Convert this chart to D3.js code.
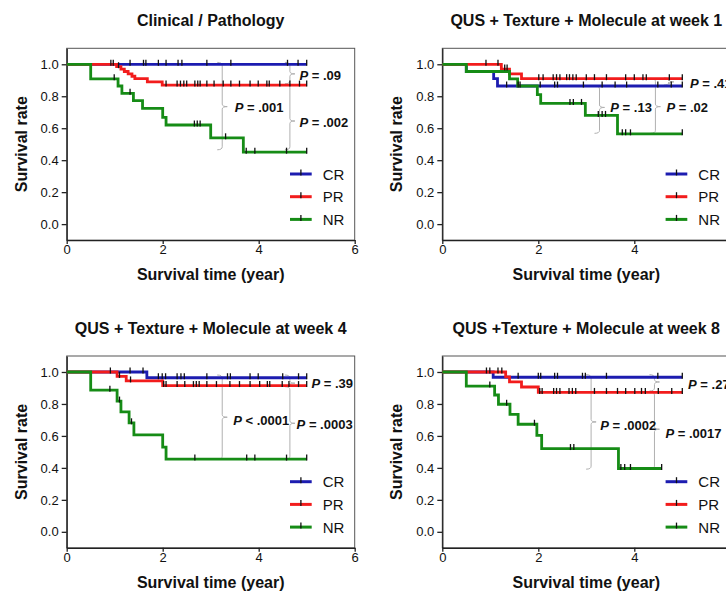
<!DOCTYPE html>
<html><head><meta charset="utf-8">
<script src="https://cdn.jsdelivr.net/npm/d3@7"></script>
<style>body{margin:0;background:#fff}svg{display:block}</style>
</head><body>
<svg id="chart" width="726" height="592"></svg>
<script>
// ---------- DATA ----------
const panelTitles = ["Clinical / Pathology", "QUS + Texture + Molecule at week 1", "QUS + Texture + Molecule at week 4", "QUS +Texture + Molecule at week 8"];
const groups = ["CR", "PR", "NR"];
const xTicks = [0, 2, 4, 6];
const yTicks = [0, 0.2, 0.4, 0.6, 0.8, 1.0];
const xLabel = "Survival time (year)";
const yLabel = "Survival rate";

// Kaplan-Meier steps: [time (year), survival after drop]; last entry = end of follow-up
const clinCR = [[0, 1], [5, 1]];
const clinPR = [[0, 1], [1.04, 0.985], [1.13, 0.97], [1.2, 0.955], [1.28, 0.94], [1.36, 0.925], [1.42, 0.91], [1.68, 0.89], [1.99, 0.87], [5, 0.87]];
const clinNR = [[0, 1], [0.5, 0.909], [1.07, 0.864], [1.15, 0.818], [1.39, 0.773], [1.58, 0.724], [2.0, 0.668], [2.07, 0.62], [3.0, 0.54], [3.68, 0.45], [5, 0.45]];
const clinCRcens = [0.92, 0.97, 1.32, 1.6, 1.65, 1.91, 2.07, 2.32, 2.4, 2.92, 3.42, 4.6, 4.82, 5.0];
const clinPRcens = [1.08, 2.07, 2.3, 2.37, 2.44, 2.5, 2.67, 2.73, 2.78, 2.92, 3.07, 3.26, 3.42, 3.6, 3.82, 3.99, 4.17, 4.22, 4.44, 4.65, 4.85, 5.0];
const clinNRcens = [0.99, 1.32, 2.66, 2.72, 2.78, 3.31, 3.74, 3.92, 4.58, 5.0];

const wk1CR = [[0, 1], [0.5, 0.955], [1.07, 0.91], [1.15, 0.864], [5, 0.864]];
const wk1PR = [[0, 1], [1.23, 0.97], [1.4, 0.94], [1.65, 0.91], [5, 0.91]];
const wk1NR = [[0, 1], [0.5, 0.955], [1.4, 0.909], [1.57, 0.864], [1.98, 0.81], [2.05, 0.755], [2.98, 0.68], [3.65, 0.565], [5, 0.565]];
const wk1CRcens = [1.34, 1.58, 2.04, 2.34, 2.4, 2.94, 3.33, 3.6, 3.84, 4.49, 4.77, 5.0];
const wk1PRcens = [0.91, 1.16, 1.3, 1.35, 2.01, 2.1, 2.31, 2.38, 2.45, 2.59, 2.65, 2.72, 2.79, 3.0, 3.17, 3.42, 3.82, 4.0, 4.18, 4.25, 4.73, 5.0];
const wk1NRcens = [1.62, 2.66, 2.73, 2.9, 3.25, 3.33, 3.4, 3.75, 3.82, 3.92, 5.0];

const wk4CR = [[0, 1], [1.67, 0.964], [5, 0.964]];
const wk4PR = [[0, 1], [1.05, 0.972], [1.24, 0.944], [2.0, 0.915], [5, 0.915]];
const wk4NR = [[0, 1], [0.5, 0.886], [1.05, 0.818], [1.13, 0.75], [1.3, 0.682], [1.4, 0.607], [2.0, 0.53], [2.07, 0.455], [5, 0.455]];
const wk4CRcens = [1.32, 1.59, 1.91, 1.99, 2.06, 2.3, 2.38, 2.45, 2.92, 3.35, 3.41, 3.82, 3.99, 4.5, 4.83, 5.0];
const wk4PRcens = [0.91, 1.1, 1.33, 2.02, 2.07, 2.3, 2.46, 2.64, 2.7, 2.76, 2.92, 3.12, 3.4, 3.6, 3.82, 4.02, 4.18, 4.23, 4.49, 4.63, 4.83, 5.0];
const wk4NRcens = [0.9, 1.1, 1.35, 2.67, 3.75, 3.92, 4.58, 5.0];

const wk8CR = [[0, 1], [1.06, 0.967], [5, 0.967]];
const wk8PR = [[0, 1], [1.32, 0.969], [1.4, 0.938], [1.65, 0.906], [2.0, 0.872], [5, 0.872]];
const wk8NR = [[0, 1], [0.5, 0.912], [1.09, 0.856], [1.17, 0.798], [1.41, 0.735], [1.58, 0.673], [1.97, 0.604], [2.07, 0.521], [3.67, 0.396], [4.57, 0.396]];
const wk8CRcens = [1.58, 2.0, 2.05, 2.34, 2.4, 2.92, 2.98, 3.42, 4.49, 5.0];
const wk8PRcens = [0.92, 0.99, 1.16, 1.24, 2.03, 2.08, 2.32, 2.38, 2.45, 2.64, 2.71, 2.78, 3.17, 3.42, 3.65, 3.82, 4.01, 4.15, 4.23, 4.5, 4.78, 5.0];
const wk8NRcens = [0.99, 1.34, 1.92, 2.67, 2.74, 3.72, 3.8, 3.92, 4.57];

// P-value annotations (labels) and braces, in data units
const clinP = [{op: "=", v: ".09", t: 4.85, s: 0.933}, {op: "=", v: ".001", t: 3.5, s: 0.73}, {op: "=", v: ".002", t: 4.85, s: 0.642}];
const wk1P = [{op: "=", v: ".41", t: 5.16, s: 0.883}, {op: "=", v: ".13", t: 3.5, s: 0.731}, {op: "=", v: ".02", t: 4.67, s: 0.731}];
const wk4P = [{op: "=", v: ".39", t: 5.1, s: 0.929}, {op: "<", v: ".0001", t: 3.47, s: 0.70}, {op: "=", v: ".0003", t: 4.79, s: 0.673}];
const wk8P = [{op: "=", v: ".27", t: 5.12, s: 0.923}, {op: "=", v: ".0002", t: 3.29, s: 0.666}, {op: "=", v: ".0017", t: 4.65, s: 0.62}];

const clinBr = [{t: 3.24, top: 1.012, bot: 0.465, mid: 0.735}, {t: 4.65, top: 1.012, bot: 0.878, mid: 0.94}, {t: 4.65, top: 0.872, bot: 0.465, mid: 0.645}];
const wk1Br = [{t: 3.275, top: 0.864, bot: 0.568, mid: 0.73}, {t: 4.44, top: 0.912, bot: 0.568, mid: 0.735}, {t: 4.72, top: 0.915, bot: 0.87, mid: 0.89}];
const wk4Br = [{t: 3.24, top: 0.981, bot: 0.454, mid: 0.717}, {t: 4.65, top: 0.981, bot: 0.912, mid: 0.93}, {t: 4.65, top: 0.908, bot: 0.454, mid: 0.679}];
const wk8Br = [{t: 3.10, top: 0.983, bot: 0.392, mid: 0.6875}, {t: 4.42, top: 0.983, bot: 0.881, mid: 0.9375}, {t: 4.42, top: 0.875, bot: 0.392, mid: 0.642}];

const panels = [
  {title: panelTitles[0], curves: [clinCR, clinPR, clinNR], cens: [clinCRcens, clinPRcens, clinNRcens], p: clinP, br: clinBr},
  {title: panelTitles[1], curves: [wk1CR, wk1PR, wk1NR], cens: [wk1CRcens, wk1PRcens, wk1NRcens], p: wk1P, br: wk1Br},
  {title: panelTitles[2], curves: [wk4CR, wk4PR, wk4NR], cens: [wk4CRcens, wk4PRcens, wk4NRcens], p: wk4P, br: wk4Br},
  {title: panelTitles[3], curves: [wk8CR, wk8PR, wk8NR], cens: [wk8CRcens, wk8PRcens, wk8NRcens], p: wk8P, br: wk8Br}
];

// ---------- LAYOUT / STYLE ----------
const origins = [[66.7, 48.3], [442.3, 48.3], [66.7, 356], [442.3, 356]];
const W = 288, H = 191.8;
const colors = ["#1c1cb0", "#f21c1c", "#168c16"];
const FF = "'Liberation Sans', Arial, Helvetica, sans-serif";
const CANVAS_W = 726;

const svg = d3.select("#chart").attr("font-family", FF);

function survAt(steps, t) {
  let s = steps[0][1];
  for (const [tt, v] of steps) { if (tt <= t + 1e-9) s = v; }
  return s;
}

panels.forEach((p, i) => {
  const [L, T] = origins[i];
  const x = d3.scaleLinear().domain([0, 6]).range([L, L + W]);
  const y = d3.scaleLinear().domain([-0.1, 1.1]).range([T + H, T]);
  const g = svg.append("g");

  // frame
  g.append("rect").attr("x", L).attr("y", T).attr("width", W).attr("height", H)
    .attr("fill", "none").attr("stroke", "#555").attr("stroke-width", 1);

  // axes
  const ya = g.append("g").attr("transform", `translate(${L},0)`)
    .call(d3.axisLeft(y).tickValues(yTicks).tickFormat(d3.format(".1f")).tickSize(5).tickPadding(3).tickSizeOuter(0));
  const xa = g.append("g").attr("transform", `translate(0,${T + H})`)
    .call(d3.axisBottom(x).tickValues(xTicks).tickFormat(d => (x(d) + 4 > CANVAS_W ? "" : d3.format("d")(d))).tickSize(4).tickPadding(1).tickSizeOuter(0));
  [ya, xa].forEach(a => {
    a.selectAll("path,line").attr("stroke", "#222").attr("stroke-width", 1.3);
    a.selectAll("text").attr("font-size", 13).attr("fill", "#111").attr("font-family", FF);
  });

  // titles
  g.append("text").attr("x", L + W / 2).attr("y", T - 22.3).attr("text-anchor", "middle")
    .attr("font-size", 16).attr("font-weight", "bold").attr("fill", "#111").text(p.title);
  g.append("text").attr("x", L + W / 2).attr("y", T + 232).attr("text-anchor", "middle")
    .attr("font-size", 16).attr("font-weight", "bold").attr("fill", "#111").text(xLabel);
  g.append("text").attr("transform", `translate(${L - 45.7},${y(0.5)}) rotate(-90)`)
    .attr("text-anchor", "middle").attr("dominant-baseline", "central")
    .attr("font-size", 16).attr("font-weight", "bold").attr("fill", "#111").text(yLabel);

  // braces
  const bg = g.append("g").attr("fill", "none").attr("stroke", "#b0b0b0").attr("stroke-width", 1);
  p.br.forEach(b => {
    const bx = x(b.t), y1 = y(b.top), y2 = y(b.bot), ym = y(b.mid);
    const c = 5;
    const d = `M${bx - c},${y1} Q${bx},${y1} ${bx},${y1 + 3} L${bx},${ym - 2.5} Q${bx},${ym} ${bx + c},${ym} Q${bx},${ym} ${bx},${ym + 2.5} L${bx},${y2 - 3} Q${bx},${y2} ${bx - c},${y2}`;
    bg.append("path").attr("d", d);
  });

  // curves
  const line = d3.line().x(d => x(d[0])).y(d => y(d[1])).curve(d3.curveStepAfter);
  p.curves.forEach((steps, k) => {
    g.append("path").attr("d", line(steps)).attr("fill", "none")
      .attr("stroke", colors[k]).attr("stroke-width", 2.8).attr("stroke-linejoin", "miter");
  });
  p.curves.forEach((steps, k) => {
    g.append("g").selectAll("line").data(p.cens[k]).join("line")
      .attr("x1", d => x(d)).attr("x2", d => x(d))
      .attr("y1", d => y(survAt(steps, d)) - 4.5).attr("y2", d => y(survAt(steps, d)) + 1.5)
      .attr("stroke", "#111").attr("stroke-width", 1.3);
  });

  // P labels
  p.p.forEach(a => {
    const t = g.append("text").attr("x", x(a.t)).attr("y", y(a.s)).attr("dominant-baseline", "central")
      .attr("font-size", 13).attr("font-weight", "bold").attr("fill", "#111");
    t.append("tspan").attr("font-style", "italic").text("P");
    t.append("tspan").text(` ${a.op} ${a.v}`);
  });

  // legend
  groups.forEach((gname, k) => {
    const ly = T + 125.7 + k * 22.7;
    g.append("line").attr("x1", L + 223.3).attr("x2", L + 245).attr("y1", ly).attr("y2", ly)
      .attr("stroke", colors[k]).attr("stroke-width", 3);
    g.append("line").attr("x1", L + 234.2).attr("x2", L + 234.2).attr("y1", ly - 4.5).attr("y2", ly + 1.5)
      .attr("stroke", "#111").attr("stroke-width", 1.3);
    g.append("text").attr("x", L + 256).attr("y", ly).attr("dominant-baseline", "central")
      .attr("font-size", 15).attr("fill", "#111").text(gname);
  });
});
</script>
</body></html>
